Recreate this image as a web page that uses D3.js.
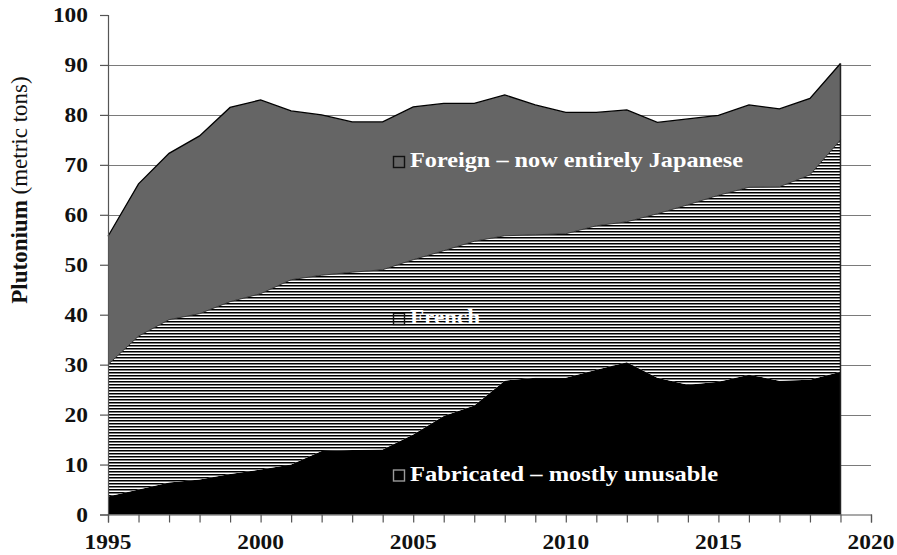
<!DOCTYPE html>
<html>
<head>
<meta charset="utf-8">
<script src="https://cdn.jsdelivr.net/npm/d3@7"></script>
<style>
  html, body { margin: 0; padding: 0; background: #fff; }
  svg { display: block; }
  text { font-family: "Liberation Serif", "Times New Roman", Tinos, serif; }
</style>
</head>
<body>
<svg id="chart" width="897" height="555"></svg>
<script>
// ---- data ----
const years = [1995,1996,1997,1998,1999,2000,2001,2002,2003,2004,2005,2006,2007,2008,2009,2010,2011,2012,2013,2014,2015,2016,2017,2018,2019];
const fabricated = [3.6,5.0,6.4,7.0,8.1,9.0,10.0,12.7,12.9,13.0,16.0,19.7,21.8,26.8,27.4,27.4,29.0,30.5,27.4,26.0,26.6,28.0,26.8,27.0,28.6];
const french     = [26.4,30.7,32.6,33.2,34.5,35.2,37.0,35.2,35.6,36.0,35.0,33.1,32.9,29.0,28.6,28.8,28.8,28.1,32.8,36.0,37.3,37.5,38.8,41.0,46.4];
const foreign    = [25.7,30.5,33.3,35.6,38.9,38.8,33.8,32.1,30.1,29.6,30.6,29.5,27.6,28.2,26.0,24.3,22.7,22.4,18.3,17.2,16.0,16.5,15.6,15.3,15.3];
const seriesKeys = ["fabricated","french","foreign"];
const seriesLabels = ["Fabricated \u2013 mostly unusable","French","Foreign \u2013 now entirely Japanese"];
const yTicks = [0,10,20,30,40,50,60,70,80,90,100];
const xTickLabels = [1995,2000,2005,2010,2015,2020];

// ---- layout ----
const svg = d3.select("#chart");
const W = 897, H = 555;
const m = {left: 108, right: 26, top: 15, bottom: 40.5};
const x = d3.scaleLinear().domain([1995, 2020]).range([m.left, W - m.right]);
const y = d3.scaleLinear().domain([0, 100]).range([H - m.bottom, m.top]);

const rows = years.map((yr, i) => ({year: yr, fabricated: fabricated[i], french: french[i], foreign: foreign[i]}));
const stacked = d3.stack().keys(seriesKeys)(rows);

// pattern for French stripes
const defs = svg.append("defs");
const pat = defs.append("pattern").attr("id", "stripes")
  .attr("patternUnits", "userSpaceOnUse").attr("width", 8).attr("height", 3);
pat.append("rect").attr("width", 8).attr("height", 3).attr("fill", "#fff");
pat.append("rect").attr("width", 8).attr("height", 1.5).attr("fill", "#000");

// gridlines
svg.append("g").selectAll("line").data(yTicks.filter(t => t > 0 && t < 100)).join("line")
  .attr("x1", x(1995)).attr("x2", x(2020))
  .attr("y1", d => Math.round(y(d)) + 0.5).attr("y2", d => Math.round(y(d)) + 0.5)
  .attr("stroke", "#7a7a7a").attr("stroke-width", 1.2);

// areas
const area = d3.area().x(d => x(d.data.year)).y0(d => y(d[0])).y1(d => y(d[1]));
const fills = {fabricated: "#000", french: "url(#stripes)", foreign: "#656565"};
svg.append("g").selectAll("path").data(stacked).join("path")
  .attr("d", area).attr("fill", d => fills[d.key]);

// outline on top of total and boundary lines
const topLine = d3.line().x(d => x(d.data.year)).y(d => y(d[1]));
svg.append("path").datum(stacked[2]).attr("d", topLine)
  .attr("fill", "none").attr("stroke", "#000").attr("stroke-width", 1.3);
svg.append("path").datum(stacked[1]).attr("d", topLine)
  .attr("fill", "none").attr("stroke", "#222").attr("stroke-width", 0.8);
// right edge
const last = stacked[2][stacked[2].length - 1];
svg.append("line").attr("x1", x(last.data.year)).attr("x2", x(last.data.year))
  .attr("y1", y(0)).attr("y2", y(last[1]))
  .attr("stroke", "#222").attr("stroke-width", 1.5);

// axes
const yAxis = svg.append("g").attr("transform", `translate(${m.left},0)`)
  .call(d3.axisLeft(y).tickValues(yTicks).tickSize(8).tickFormat(""));
yAxis.select(".domain").attr("stroke", "#555").attr("stroke-width", 1.2);
yAxis.selectAll(".tick line").attr("stroke", "#555").attr("stroke-width", 1.2);

const xAxis = svg.append("g").attr("transform", `translate(0,${y(0)})`)
  .call(d3.axisBottom(x).tickValues(d3.range(1995, 2021)).tickSize(8).tickFormat(""));
xAxis.select(".domain").attr("stroke", "#555").attr("stroke-width", 1.2);
xAxis.selectAll(".tick line").attr("stroke", "#555").attr("stroke-width", 1.2);

// tick labels (bold serif, horizontally widened)
const sx = 1.17;
svg.append("g").selectAll("text").data(yTicks).join("text")
  .attr("transform", d => `translate(88,${y(d) + 7}) scale(${sx},1)`)
  .attr("text-anchor", "end").attr("font-size", 20).attr("font-weight", "bold")
  .attr("fill", "#111").text(d => d);
svg.append("g").selectAll("text").data(xTickLabels).join("text")
  .attr("transform", d => `translate(${x(d)},549) scale(${sx},1)`)
  .attr("text-anchor", "middle").attr("font-size", 20).attr("font-weight", "bold")
  .attr("fill", "#111").text(d => d);

// y axis title
const yt = svg.append("text")
  .attr("transform", "translate(27,190) rotate(-90)")
  .attr("text-anchor", "middle").attr("font-size", 23).attr("fill", "#111");
yt.append("tspan").attr("font-weight", "bold").text("Plutonium");
yt.append("tspan").text(" (metric tons)");

// in-chart labels with legend squares
const labelPos = [
  {key: "fabricated", yBase: 481, len: 308, sq: 470, sqStroke: "#9a9a9a"},
  {key: "french", yBase: 324, len: 70, sq: 313.5, sqStroke: "#111"},
  {key: "foreign", yBase: 167, len: 333, sq: 156.5, sqStroke: "#111"}
];
const lg = svg.append("g");
labelPos.forEach((p, i) => {
  lg.append("rect").attr("x", 393.5).attr("y", p.sq).attr("width", 11).attr("height", 11)
    .attr("fill", "none").attr("stroke", p.sqStroke).attr("stroke-width", 1.4);
  lg.append("text").attr("x", 410).attr("y", p.yBase)
    .attr("font-size", 21).attr("font-weight", "bold").attr("fill", "#fff")
    .attr("textLength", p.len).attr("lengthAdjust", "spacingAndGlyphs")
    .text(seriesLabels[i]);
});
</script>
</body>
</html>
